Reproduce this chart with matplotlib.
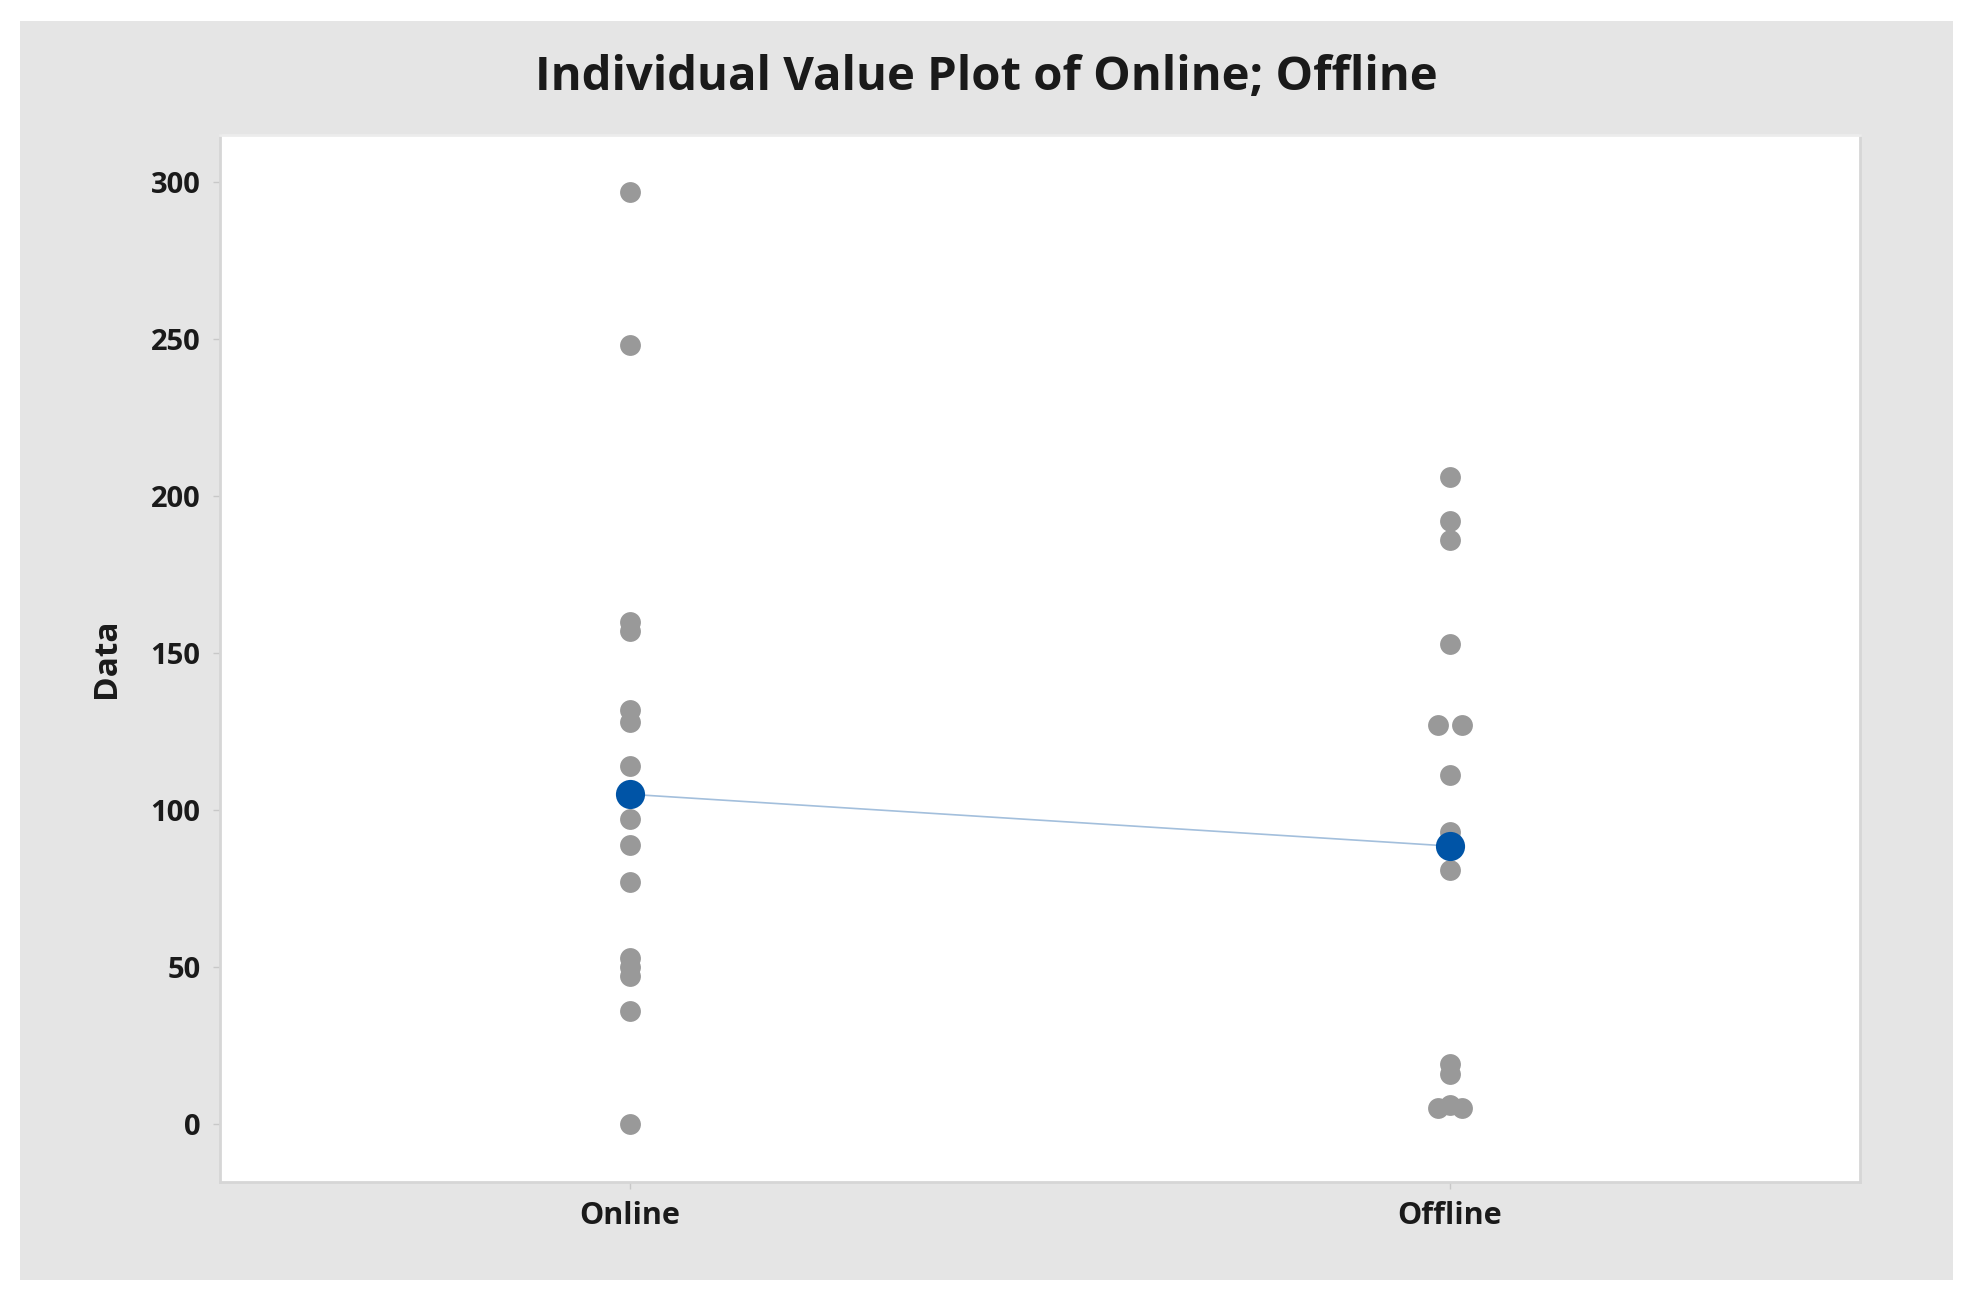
import numpy as np
import matplotlib
matplotlib.use("Agg")
import matplotlib.pyplot as plt
from matplotlib.patches import Rectangle

plt.rcParams['font.family'] = ['Open Sans', 'DejaVu Sans']

# values
groups = ['Online', 'Offline']
online = [297, 248, 160, 157, 132, 128, 114, 97, 89, 77, 53, 50, 47, 36, 0]
offline = [206, 192, 186, 153, 127, 127, 111, 93, 81, 19, 16, 6, 5, 5]
means = [105, 88.5]
yticks = [0, 50, 100, 150, 200, 250, 300]

fig = plt.figure(figsize=(19.67, 13.01), dpi=100, facecolor='white')
# grey panel behind the chart
fig.patches.append(Rectangle((20 / 1967, 1 - 1280 / 1301), 1933 / 1967, 1259 / 1301,
                             transform=fig.transFigure, facecolor='#e5e5e5',
                             edgecolor='none', zorder=-10))

ax = fig.add_axes([220 / 1967, 1 - 1182 / 1301, 1640 / 1967, 1047 / 1301])
ax.set_facecolor('white')
ax.set_zorder(1)

spread = 0.0146  # side-by-side offset for equal values
for i, vals in enumerate([online, offline]):
    vals = np.array(vals)
    xs = np.full(len(vals), i + 1.0)
    for v in np.unique(vals):
        idx = np.where(vals == v)[0]
        if len(idx) > 1:
            offs = (np.arange(len(idx)) - (len(idx) - 1) / 2) * 2 * spread / max(len(idx) - 1, 1)
            xs[idx] += offs
    ax.plot(xs, vals, 'o', color='#999999', markersize=15, markeredgewidth=0, zorder=2)

xpos = np.arange(1, len(groups) + 1)
ax.plot(xpos, means, '-', color='#a3bfdc', linewidth=1.2, zorder=3)
ax.plot(xpos, means, 'o', color='#0054a6', markersize=21, markeredgewidth=0, zorder=4)

ax.set_xlim(0.5, 2.5)
ax.set_ylim(-18.5, 315)
ax.set_xticks(xpos)
ax.set_xticklabels(groups)
ax.set_yticks(yticks)

for s in ax.spines.values():
    s.set_color('#d6d6d6')
    s.set_linewidth(2)
ax.spines['top'].set_color('#ececec')
ax.tick_params(axis='both', colors='#c8c8c8', length=5, width=1, labelcolor='#1a1a1a',
               labelsize=21, pad=9)
for lab in ax.get_xticklabels() + ax.get_yticklabels():
    lab.set_fontweight('bold')
for lab in ax.get_xticklabels():
    lab.set_fontsize(22)

ax.set_ylabel('Data', fontsize=24, fontweight='bold', color='#1a1a1a', labelpad=20)
fig.text(986 / 1967, 1 - 78 / 1301, 'Individual Value Plot of Online; Offline',
         ha='center', va='center', fontsize=34, fontweight='bold', color='#1a1a1a')

fig.savefig('out.png', dpi=100)
